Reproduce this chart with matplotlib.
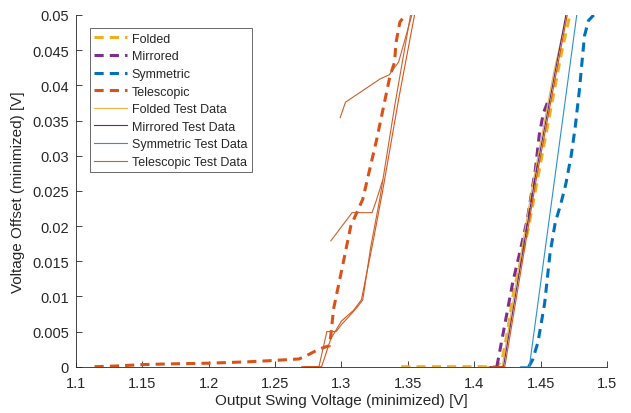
import matplotlib
matplotlib.use("Agg")
import matplotlib.pyplot as plt
import numpy as np

# ---- data ----
tele_x = [1.114, 1.13, 1.15, 1.17, 1.20, 1.23, 1.25, 1.268, 1.276, 1.283, 1.291, 1.292, 1.294, 1.300, 1.307, 1.316, 1.3265, 1.3365, 1.340, 1.341, 1.344, 1.348]
tele_y = [0.0, 0.0001, 0.0003, 0.0004, 0.0005, 0.0007, 0.0009, 0.0011, 0.0018, 0.0025, 0.003, 0.0045, 0.0082, 0.0136, 0.020, 0.0238, 0.0323, 0.0413, 0.0433, 0.046, 0.049, 0.050]

fold_x = [1.345, 1.36, 1.38, 1.40, 1.417, 1.421, 1.425, 1.430, 1.435, 1.440, 1.446, 1.452, 1.458, 1.465, 1.472]
fold_y = [0.0, 0.0, 0.0, 0.0, 0.0, 0.001, 0.005, 0.011, 0.015, 0.019, 0.025, 0.031, 0.037, 0.044, 0.050]

mirr_x = [1.417, 1.420, 1.424, 1.429, 1.434, 1.440, 1.446, 1.449, 1.452, 1.456]
mirr_y = [0.0, 0.003, 0.007, 0.012, 0.016, 0.021, 0.028, 0.033, 0.036, 0.038]

symm_x = [1.441, 1.444, 1.448, 1.453, 1.457, 1.461, 1.465, 1.469, 1.473, 1.476, 1.479, 1.481, 1.483, 1.486, 1.490]
symm_y = [0.0, 0.001, 0.0035, 0.009, 0.016, 0.0205, 0.023, 0.026, 0.030, 0.034, 0.039, 0.043, 0.047, 0.0492, 0.050]

fold_test_x = [1.410, 1.421, 1.428, 1.436, 1.444, 1.452, 1.460, 1.466, 1.470]
fold_test_y = [0.0, 0.0, 0.008, 0.017, 0.026, 0.034, 0.042, 0.047, 0.050]

mirr_test_x = [1.412, 1.422, 1.430, 1.438, 1.446, 1.454, 1.462, 1.469]
mirr_test_y = [0.0, 0.0, 0.009, 0.018, 0.027, 0.035, 0.043, 0.050]

symm_test_x = [1.435, 1.4415, 1.4772]
symm_test_y = [0.0, 0.0, 0.050]

tele_test1_x = [1.270, 1.283, 1.289, 1.296, 1.300, 1.305, 1.312, 1.316, 1.322, 1.329, 1.340, 1.352]
tele_test1_y = [0.0, 0.0, 0.005, 0.005, 0.006, 0.007, 0.0085, 0.0095, 0.017, 0.024, 0.037, 0.050]
tele_test2_x = [1.272, 1.285, 1.292, 1.300, 1.309, 1.315, 1.324, 1.331, 1.343, 1.355]
tele_test2_y = [0.0, 0.0, 0.004, 0.0065, 0.008, 0.0095, 0.018, 0.025, 0.038, 0.050]
tele_test3_x = [1.292, 1.308, 1.323, 1.326, 1.331]
tele_test3_y = [0.0179, 0.0219, 0.0219, 0.0235, 0.0265]
tele_test4_x = [1.299, 1.303, 1.329, 1.336, 1.343, 1.353]
tele_test4_y = [0.0354, 0.0376, 0.0409, 0.0415, 0.0433, 0.050]

x_ticks = [1.1, 1.15, 1.2, 1.25, 1.3, 1.35, 1.4, 1.45, 1.5]
x_tick_labels = ["1.1", "1.15", "1.2", "1.25", "1.3", "1.35", "1.4", "1.45", "1.5"]
y_ticks = [0, 0.005, 0.01, 0.015, 0.02, 0.025, 0.03, 0.035, 0.04, 0.045, 0.05]
y_tick_labels = ["0", "0.005", "0.01", "0.015", "0.02", "0.025", "0.03", "0.035", "0.04", "0.045", "0.05"]

# ---- style ----
plt.rcParams['font.family'] = ['Liberation Sans', 'DejaVu Sans']
C_FOLD = '#EDB120'
C_MIRR = '#7E2F8E'
C_SYMM = '#0072BD'
C_TELE = '#D95319'
C_FOLD_T = '#E6B54A'
C_MIRR_T = '#5A2E6E'
C_SYMM_T = '#2F8FC8'
C_TELE_T = '#C8602A'
TXT = '#262626'

fig = plt.figure(figsize=(6.31, 4.14), dpi=100)
ax = fig.add_axes([0.1204, 0.1118, 0.8416, 0.8496])

dash_kw = dict(linewidth=2.2, linestyle=(0, (3, 2)))
thin = 0.8

l1, = ax.plot(fold_x, fold_y, color=C_FOLD, label='Folded', **dash_kw)
l2, = ax.plot(mirr_x, mirr_y, color=C_MIRR, label='Mirrored', **dash_kw)
l3, = ax.plot(symm_x, symm_y, color=C_SYMM, label='Symmetric', **dash_kw)
l4, = ax.plot(tele_x, tele_y, color=C_TELE, label='Telescopic', **dash_kw)
l5, = ax.plot(fold_test_x, fold_test_y, color=C_FOLD_T, lw=thin, label='Folded Test Data')
l6, = ax.plot(mirr_test_x, mirr_test_y, color=C_MIRR_T, lw=thin, label='Mirrored Test Data')
ax.plot([x + 0.001 for x in mirr_test_x], mirr_test_y, color=C_TELE, lw=thin)
l7, = ax.plot(symm_test_x, symm_test_y, color=C_SYMM_T, lw=thin, label='Symmetric Test Data')
l8, = ax.plot(tele_test1_x, tele_test1_y, color=C_TELE_T, lw=thin, label='Telescopic Test Data')
ax.plot(tele_test2_x, tele_test2_y, color=C_TELE, lw=thin)
ax.plot(tele_test3_x, tele_test3_y, color=C_TELE_T, lw=thin)
ax.plot(tele_test4_x, tele_test4_y, color=C_TELE_T, lw=thin)

ax.set_xlim(1.1, 1.5)
ax.set_ylim(0, 0.05)
ax.set_xticks(x_ticks)
ax.set_xticklabels(x_tick_labels)
ax.set_yticks(y_ticks)
ax.set_yticklabels(y_tick_labels)
ax.tick_params(direction='in', length=4, width=0.6, colors=TXT, labelsize=10.5, labelcolor=TXT)
ax.tick_params(axis='x', pad=7)
ax.tick_params(axis='y', pad=5)
for s in ['top', 'right']:
    ax.spines[s].set_visible(False)
for s in ['left', 'bottom']:
    ax.spines[s].set_color('#262626')
    ax.spines[s].set_linewidth(0.6)

ax.set_xlabel('Output Swing Voltage (minimized) [V]', fontsize=11, color=TXT, labelpad=2)
ax.set_ylabel('Voltage Offset (minimized) [V]', fontsize=11, color=TXT, labelpad=5)

leg = ax.legend(handles=[l1, l2, l3, l4, l5, l6, l7, l8], loc='upper left',
                bbox_to_anchor=(0.026, 0.962), fontsize=9, frameon=True, fancybox=False,
                handlelength=2.6, handletextpad=0.4, labelspacing=0.45, borderpad=0.35,
                borderaxespad=0.0)
leg.get_frame().set_edgecolor('#262626')
leg.get_frame().set_linewidth(0.6)
for t in leg.get_texts():
    t.set_color(TXT)

fig.savefig('out.png', dpi=100)
